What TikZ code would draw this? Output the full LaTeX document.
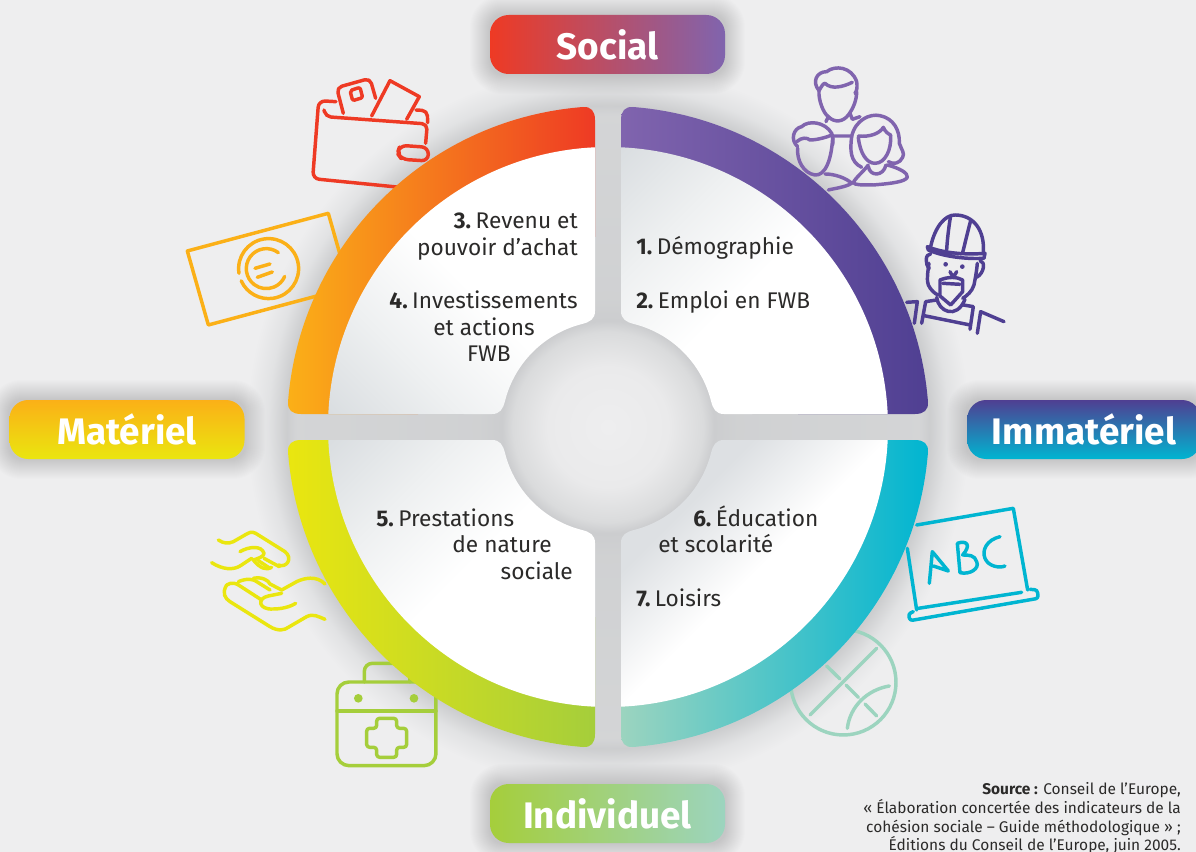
\documentclass[tikz,border=0pt]{standalone}
\usepackage{fontspec}
\setmainfont{Fira Sans}
\definecolor{bgc}{HTML}{EEEEEF}
\definecolor{cred}{HTML}{EE3A24}
\definecolor{corange}{HTML}{F6821F}
\definecolor{cambre}{HTML}{FBB017}
\definecolor{cyel}{HTML}{EAE60F}
\definecolor{cgreen}{HTML}{A5CE3B}
\definecolor{cmint}{HTML}{9CD4BF}
\definecolor{ccyan}{HTML}{00B5D1}
\definecolor{cviolet}{HTML}{8064AE}
\definecolor{cdeep}{HTML}{4F3F92}
\definecolor{cmidviolet}{HTML}{6A50A0}
\definecolor{cmidyel}{HTML}{DCE21A}
\definecolor{cmidteal}{HTML}{25BCC9}
\definecolor{panelgrey}{HTML}{D9DDE0}
\definecolor{panellight}{HTML}{EEF0F1}
\definecolor{panelbr}{HTML}{DDE0E3}
\definecolor{txt}{HTML}{2B2A29}
\pgfdeclareradialshading{halo}{\pgfpoint{0bp}{0bp}}{%
 color(0bp)=(bgc);
 rgb(3.75bp)=(0.918,0.918,0.922);
 rgb(5.94bp)=(0.855,0.859,0.863);
 rgb(6.625bp)=(0.80,0.804,0.812);
 rgb(8.125bp)=(0.815,0.82,0.825);
 rgb(19.5bp)=(0.83,0.834,0.84);
 rgb(20.1bp)=(0.80,0.804,0.81);
 rgb(21.25bp)=(0.885,0.888,0.893);
 color(22.6bp)=(bgc);
 color(50bp)=(bgc)}
\pgfdeclareverticalshading{panelsh}{100bp}{%
 color(0bp)=(white);
 color(50bp)=(white);
 color(68bp)=(panellight);
 color(86bp)=(panelgrey);
 color(100bp)=(panelgrey)}
\pgfdeclareverticalshading{panelsb}{100bp}{%
 color(0bp)=(white);
 color(50bp)=(white);
 color(68bp)=(panelbr);
 color(100bp)=(panelbr)}
\newcommand{\ringshape}{(13,-307) .. controls (13,-316) and (17,-320.5) .. (25,-320) arc[start angle=-85.53,end angle=-4.47,radius=321] .. controls (320.5,-17) and (316,-13) .. (307,-13) -- (190,-13) -- (190,-190) -- (13,-190) -- cycle}
\newcommand{\panelshape}{(13,-279.7) arc[start angle=-87.34,end angle=-2.66,radius=280] -- (116,-13) .. controls (108,-13) and (105,-18) .. (103,-26) arc[start angle=-14.17,end angle=-75.83,radius=106.2] .. controls (18,-105) and (13,-108) .. (13,-116) -- cycle}
\newcommand{\softbox}[4]{\foreach \e in {1,...,20}{\pgfmathsetmacro{\rr}{10+0.7*\e}\fill[black,opacity=0.009,rounded corners=\rr pt] (#1-\e,#2-\e) rectangle (#3+\e,#4+\e);}}
\newcommand{\numgap}{\hspace{0.2em}}
\tikzset{
 ico/.style={line width=2.6pt,line cap=round,line join=round},
 body/.style={font=\fontsize{17}{20}\selectfont,text=txt,inner sep=0pt},
 tag/.style={rectangle,rounded corners=14pt,minimum width=176.25pt,minimum height=44.25pt,inner sep=0pt,text=white,font=\fontsize{27.7}{32}\selectfont\bfseries},
 src/.style={font=\fontsize{11.6}{14}\selectfont,text=txt,inner sep=0pt,anchor=base east},
}
\begin{document}
\begin{tikzpicture}[x=0.75pt,y=-0.75pt]
\clip (0,0) rectangle (1196,852);
\fill[bgc] (0,0) rectangle (1196,852);
\shade[shading=halo] (608,427) circle[radius=400];
% wallet
\begin{scope}[shift={(180,60)},scale=0.3333,ico,draw=cred]
\draw[rounded corners=5pt] (468,125) -- (416,122) -- (398,356) -- (650,381);
\draw[rounded corners=4pt] (432,150) -- (437,170) -- (742,192) -- (737,250);
\draw[rounded corners=4pt] (490,160) -- (470,83) -- (570,55) -- (587,115);
\draw[rounded corners=1.5pt] (510,92) -- (540,82) -- (548,113) -- (518,122) -- cycle;
\draw (575,168) -- (630,62) -- (718,110) -- (680,178);
\draw[rounded corners=4pt] (708,150) -- (742,152) -- (743,188);
\draw[rounded corners=5pt] (745,262) -- (660,256) -- (652,280) -- (665,298) -- (745,303) -- cycle;
% banknote
\draw[draw=cambre] (22,573) -- (445,460) -- (508,682) -- (85,795) -- cycle;
\draw[draw=cambre] (177,640) arc[start angle=171,end angle=516,radius=90];
\draw[draw=cambre] (295,578) arc[start angle=307,end angle=23,radius=60];
\draw[draw=cambre] (225,625) -- (270,612) (232,652) -- (277,636);
\end{scope}
% people
\begin{scope}[shift={(760,50)},scale=0.3333,ico,draw=cviolet]
\draw (177,122) .. controls (155,95) and (170,65) .. (200,65) .. controls (225,45) and (275,50) .. (290,95) .. controls (292,110) and (292,120) .. (285,130);
\draw (177,122) .. controls (185,108) and (190,100) .. (195,100) .. controls (215,120) and (250,110) .. (277,97);
\draw (177,122) .. controls (175,150) and (190,190) .. (205,200) .. controls (225,220) and (250,215) .. (265,195) .. controls (280,175) and (290,150) .. (290,125);
\draw (205,200) -- (198,215) (270,190) -- (277,208) -- (300,200) (218,258) -- (272,258);
\draw (113,290) .. controls (90,270) and (100,235) .. (125,230) .. controls (145,210) and (195,215) .. (215,250) .. controls (218,258) and (220,270) .. (218,285);
\draw (113,295) .. controls (110,330) and (130,370) .. (165,375) .. controls (195,378) and (215,330) .. (218,262);
\draw (110,275) .. controls (125,262) and (140,262) .. (150,270) .. controls (170,270) and (200,262) .. (215,255);
\draw (195,372) .. controls (225,372) and (260,385) .. (275,400) .. controls (255,412) and (225,415) .. (205,420);
\draw (275,260) .. controls (285,210) and (330,190) .. (360,197) .. controls (400,205) and (420,240) .. (418,280) .. controls (425,300) and (435,310) .. (428,322) .. controls (420,340) and (400,345) .. (385,335);
\draw (275,260) .. controls (270,300) and (270,335) .. (305,352);
\draw (295,262) .. controls (300,310) and (320,340) .. (345,340) .. controls (375,340) and (395,300) .. (392,255);
\draw (295,258) .. controls (330,262) and (360,250) .. (370,232) .. controls (375,245) and (385,252) .. (392,255);
\draw (325,345) .. controls (310,365) and (285,385) .. (280,398) .. controls (285,405) and (300,405) .. (340,405) .. controls (400,400) and (435,395) .. (442,382) .. controls (445,370) and (420,355) .. (382,345);
\draw (325,350) .. controls (330,380) and (370,380) .. (378,345);
% worker
\begin{scope}[draw=cdeep]
\draw (512,590) .. controls (525,530) and (555,495) .. (585,495) .. controls (640,495) and (675,540) .. (670,608);
\draw (572,497) .. controls (565,540) and (562,570) .. (560,600) (632,512) .. controls (622,550) and (615,580) .. (608,608);
\draw (502,590) .. controls (550,610) and (620,615) .. (675,610) -- (672,625) .. controls (620,628) and (550,620) .. (505,600) -- cycle;
\draw (512,612) .. controls (495,610) and (495,645) .. (508,655) (660,632) .. controls (678,635) and (672,670) .. (650,682);
\draw (507,640) .. controls (503,665) and (500,695) .. (505,705) .. controls (512,720) and (525,732) .. (535,735);
\draw (652,640) .. controls (650,665) and (645,690) .. (642,705) .. controls (636,725) and (620,738) .. (608,745);
\draw (540,690) .. controls (565,680) and (590,680) .. (608,690) -- (608,725) -- (572,765) -- (540,738) -- cycle;
\draw (548,700) -- (600,703);
\fill[cdeep] (557,643) circle[radius=7] (607,650) circle[radius=7];
\draw (570,665) .. controls (575,680) and (585,680) .. (590,665);
\draw (530,742) .. controls (535,785) and (590,810) .. (615,748);
\draw (485,820) -- (497,755) -- (530,750) (610,765) -- (640,770) -- (630,838) (492,797) -- (630,825);
\draw (440,757) -- (472,755) -- (463,820) (652,850) -- (662,785) -- (732,815);
\end{scope}
\end{scope}
% hands and first aid
\begin{scope}[shift={(190,510)},scale=0.3333,ico,draw=cyel]
\draw (85,90) .. controls (100,100) and (115,102) .. (130,95) -- (170,72) .. controls (185,62) and (195,68) .. (205,75) -- (285,125) .. controls (310,145) and (290,175) .. (265,165);
\draw (65,158) .. controls (100,180) and (130,180) .. (150,168) -- (185,145);
\draw (150,125) .. controls (175,110) and (215,105) .. (222,130) .. controls (222,140) and (205,145) .. (190,150) .. controls (210,175) and (230,182) .. (245,172);
\draw (222,145) -- (268,170) (205,152) -- (240,175);
\draw (405,222) .. controls (380,195) and (340,205) .. (320,215) -- (275,240) -- (240,222) (190,205) .. controls (215,200) and (235,210) .. (240,222);
\draw (110,225) .. controls (95,250) and (105,265) .. (120,275) -- (240,350) .. controls (265,365) and (285,360) .. (295,352) -- (350,320) .. controls (370,310) and (385,320) .. (405,328);
\draw (110,225) .. controls (125,215) and (140,220) .. (150,228) -- (215,270) (145,215) .. controls (170,205) and (190,205) .. (205,218) -- (240,240);
\draw (275,250) -- (235,258) .. controls (200,265) and (205,300) .. (250,297) .. controls (285,297) and (310,285) .. (317,280);
\begin{scope}[draw=cgreen]
\draw[rounded corners=9pt] (441,516) rectangle (738,767);
\draw[rounded corners=6pt] (523,516) -- (523,460) -- (660,460) -- (660,516);
\draw (441,603) -- (738,603);
\fill[cgreen] (505,565) circle[radius=13] (672,565) circle[radius=13];
\draw[rounded corners=2.2pt] (560,625) -- (620,625) -- (620,655) -- (650,655) -- (650,712) -- (620,712) -- (620,742) -- (560,742) -- (560,712) -- (530,712) -- (530,655) -- (560,655) -- cycle;
\end{scope}
\end{scope}
% chalkboard and ball
\begin{scope}[shift={(770,490)},scale=0.3333,ico,draw=ccyan]
\draw (412,175) -- (440,360) (440,105) -- (730,55) -- (773,300) (445,355) -- (755,307);
\draw[rounded corners=2pt] (430,365) -- (415,372) -- (420,392) -- (805,325) -- (802,300) -- (780,298);
\draw (478,280) -- (487,185) -- (535,243) -- (490,228);
\draw (562,160) -- (570,248) .. controls (600,255) and (630,235) .. (620,215) .. controls (615,195) and (595,195) .. (578,195) .. controls (605,165) and (590,150) .. (562,160);
\draw (690,140) .. controls (650,150) and (635,180) .. (645,205) .. controls (655,230) and (690,235) .. (705,228);
\begin{scope}[draw=cmint]
\draw (220,577) circle[radius=158];
\draw (120,675) -- (320,475) (170,528) -- (210,567) (228,585) -- (265,622) (285,642) -- (320,678);
\draw (232,715) .. controls (240,650) and (290,600) .. (358,588);
\end{scope}
\end{scope}
% quadrants
\begin{scope}[shift={(608,427)}]
\shade[left color=cviolet,middle color=cmidviolet,right color=cdeep] \ringshape;
\shade[shading=panelsh,shading angle=45] \panelshape;
\end{scope}
\begin{scope}[shift={(608,427)},xscale=-1]
\shade[left color=cambre,middle color=corange,right color=cred] \ringshape;
\shade[shading=panelsh,shading angle=135] \panelshape;
\end{scope}
\begin{scope}[shift={(608,427)},yscale=-1]
\shade[left color=cmint,middle color=cmidteal,right color=ccyan] \ringshape;
\shade[shading=panelsb,shading angle=45] \panelshape;
\end{scope}
\begin{scope}[shift={(608,427)},xscale=-1,yscale=-1]
\shade[left color=cyel,middle color=cmidyel,right color=cgreen] \ringshape;
\shade[shading=panelsh,shading angle=45] \panelshape;
\end{scope}
% tags
\softbox{490}{15}{725}{74}
\softbox{9}{400}{245}{459}
\softbox{967}{400}{1200}{459}
\softbox{490}{784}{725}{843}
\node[tag,left color=cred,right color=cviolet] (social) at (607.5,44.5) {Social};
\node[tag,top color=cambre,bottom color=cyel] (materiel) at (127,429.5) {Matériel};
\node[tag,top color=cdeep,bottom color=ccyan,minimum width=175pt] (immateriel) at (1084,429.5) {Immatériel};
\node[tag,left color=cgreen,right color=cmint] (individuel) at (607.5,813.5) {Individuel};
% texts
\node[body,anchor=base east] (t3a) at (578,229) {\textbf{3.}\numgap Revenu et};
\node[body,anchor=base east] (t3b) at (578,256) {pouvoir d'achat};
\node[body,anchor=base east] (t4a) at (578,309) {\textbf{4.}\numgap Investissements};
\node[body,anchor=base east] (t4b) at (535,335) {et actions};
\node[body,anchor=base east] (t4c) at (511,362) {FWB};
\node[body,anchor=base west] (t1) at (636,255) {\textbf{1.}\numgap Démographie};
\node[body,anchor=base west] (t2) at (636,309) {\textbf{2.}\numgap Emploi en FWB};
\node[body,anchor=base west] (t5a) at (376,526) {\textbf{5.}\numgap Prestations};
\node[body,anchor=base east] (t5b) at (552,552) {de nature};
\node[body,anchor=base east] (t5c) at (573,579) {sociale};
\node[body,anchor=base west] (t6a) at (693,526) {\textbf{6.}\numgap Éducation};
\node[body,anchor=base west] (t6b) at (658,552) {et scolarité};
\node[body,anchor=base west] (t7) at (636,606) {\textbf{7.}\numgap Loisirs};
\node[src] (s1) at (1181,794) {\textbf{Source :} Conseil de l'Europe,};
\node[src] (s2) at (1181,813) {« Élaboration concertée des indicateurs de la};
\node[src] (s3) at (1181,832) {cohésion sociale – Guide méthodologique » ;};
\node[src] (s4) at (1181,850) {Éditions du Conseil de l'Europe, juin 2005.};
\end{tikzpicture}
\end{document}
